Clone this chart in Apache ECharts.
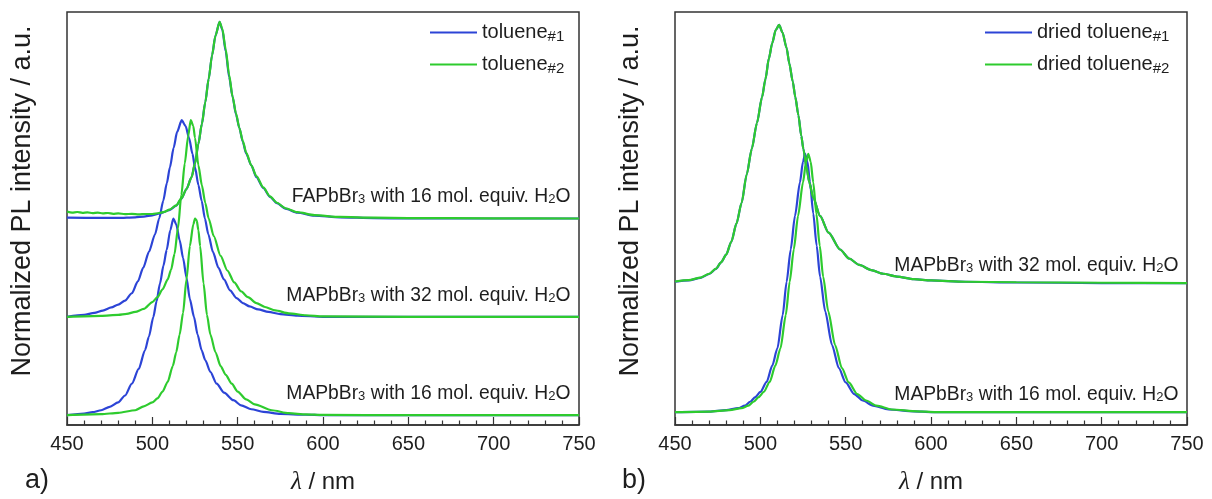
<!DOCTYPE html>
<html><head><meta charset="utf-8">
<script src="https://cdn.jsdelivr.net/npm/echarts@6/dist/echarts.min.js"></script>
<style>html,body{margin:0;padding:0;background:#fff}#c{width:1212px;height:499px}</style>
</head><body><div id="c"></div>
<script>
// ---------- DATA (normalized PL intensity vs wavelength / nm) ----------
const xTicks = [450, 500, 550, 600, 650, 700, 750];

// Panel a) toluene
const MAP16_tol1 = [[450,0],[460,0.008],[465,0.015],[470,0.025],[475,0.042],[480,0.065],[484,0.10],[488,0.16],[492,0.235],[495.7,0.33],[498,0.40],[500.6,0.50],[502.5,0.58],[504.5,0.67],[506.5,0.76],[508.4,0.84],[510.5,0.94],[512.3,1.0],[514,0.97],[516,0.89],[518,0.80],[520,0.70],[522,0.59],[524.4,0.50],[526.5,0.41],[528.9,0.33],[531,0.28],[534,0.22],[537.7,0.16],[542,0.115],[547.5,0.076],[552,0.05],[558,0.03],[565,0.017],[575,0.007],[590,0.002],[600,0],[650,0],[700,0],[750,0]];
const MAP16_tol2 = [[450,0],[470,0.005],[480,0.012],[490,0.025],[495,0.045],[500,0.065],[503,0.085],[506,0.12],[509,0.17],[512,0.25],[514,0.32],[516,0.41],[518,0.52],[520,0.69],[522,0.86],[524,0.97],[525,1.0],[526,0.99],[527,0.94],[528,0.86],[530,0.67],[532,0.51],[534,0.41],[537,0.32],[540,0.25],[543,0.205],[546.5,0.16],[550,0.12],[555,0.08],[560,0.055],[570,0.025],[580,0.01],[590,0.004],[600,0.001],[650,0],[700,0],[750,0]];
const MAP32_tol1 = [[450,0],[460,0.01],[466,0.02],[471,0.032],[476,0.048],[480,0.062],[484,0.082],[488,0.12],[491.5,0.18],[494.7,0.25],[498,0.33],[501.6,0.42],[504,0.50],[506.4,0.59],[508.5,0.68],[510.3,0.76],[512.5,0.86],[514.5,0.94],[517.2,1.0],[519.5,0.97],[521.5,0.91],[523.5,0.83],[525,0.76],[527,0.67],[528.9,0.59],[530.8,0.50],[532.8,0.42],[535.5,0.33],[538.7,0.25],[542,0.19],[545.5,0.135],[549.4,0.095],[553,0.07],[557,0.053],[562,0.038],[568,0.025],[575,0.014],[585,0.006],[600,0],[650,0],[700,0],[750,0]];
const MAP32_tol2 = [[450,0],[470,0.005],[480,0.01],[485,0.015],[490,0.025],[495,0.04],[500,0.075],[503,0.10],[506,0.14],[509,0.19],[511,0.24],[513,0.32],[515,0.45],[517,0.62],[519,0.78],[521,0.92],[522.5,1.0],[524,0.97],[525,0.91],[527,0.77],[529,0.67],[531,0.58],[533,0.50],[536,0.41],[540,0.31],[544,0.235],[548,0.175],[552,0.13],[556,0.10],[561,0.07],[566,0.05],[572,0.033],[580,0.018],[590,0.008],[600,0.002],[650,0],[700,0],[750,0]];
const FAP16_tol1 = [[450,0.004],[470,0.003],[480,0.003],[490,0.006],[495,0.01],[500,0.016],[505,0.027],[510,0.043],[514,0.065],[517,0.10],[520,0.15],[523,0.21],[525,0.28],[527,0.38],[529,0.48],[531,0.59],[533,0.71],[535,0.83],[537,0.93],[539.4,1.0],[541,0.96],[543,0.85],[545,0.72],[547,0.62],[549,0.53],[551,0.46],[553,0.39],[555,0.33],[558,0.27],[561,0.21],[565,0.155],[569,0.11],[573,0.078],[578,0.05],[585,0.03],[595,0.015],[610,0.006],[630,0.002],[650,0],[700,0],[750,0]];
const FAP16_tol2 = [[450,0.035],[453,0.03],[456,0.033],[459,0.029],[462,0.031],[465,0.027],[468,0.03],[471,0.026],[474,0.028],[477,0.024],[480,0.026],[484,0.022],[488,0.024],[492,0.021],[496,0.023],[500,0.023],[504,0.028],[507,0.034],[510,0.045],[514,0.067],[517,0.102],[520,0.15],[523,0.21],[525,0.28],[527,0.38],[529,0.48],[531,0.59],[533,0.71],[535,0.83],[537,0.93],[539.4,1.0],[541,0.965],[543,0.86],[545,0.73],[547,0.62],[549,0.535],[551,0.46],[553,0.395],[555,0.335],[558,0.27],[561,0.215],[565,0.158],[569,0.112],[573,0.08],[578,0.052],[585,0.032],[595,0.017],[610,0.008],[630,0.004],[650,0.002],[700,0.001],[750,0]];

// Panel b) dried toluene
const MAP16_dry1 = [[450,0],[470,0.002],[480,0.008],[487,0.015],[491,0.025],[494,0.04],[497,0.058],[500,0.078],[503.7,0.117],[507,0.18],[510,0.247],[513.1,0.376],[515.4,0.505],[517.8,0.63],[520.3,0.76],[523.2,0.89],[525,0.97],[526.2,1.0],[527.6,0.97],[529.1,0.89],[531,0.77],[533,0.645],[535,0.525],[538,0.39],[542,0.26],[546,0.17],[550,0.115],[555,0.07],[560,0.045],[566,0.025],[575,0.01],[590,0.003],[600,0],[650,0],[700,0],[750,0]];
const MAP16_dry2 = [[450,0],[470,0.002],[482,0.008],[489,0.015],[493,0.025],[496,0.04],[499,0.058],[502,0.078],[505.5,0.117],[508.8,0.18],[511.8,0.247],[514.9,0.376],[517.2,0.505],[519.6,0.63],[522.1,0.76],[525,0.89],[526.8,0.97],[528.1,1.0],[529.5,0.97],[531,0.89],[532.8,0.77],[534.8,0.645],[536.8,0.525],[539.8,0.39],[543.8,0.26],[547.8,0.17],[551.8,0.115],[556.8,0.07],[562,0.045],[568,0.025],[577,0.01],[592,0.003],[602,0],[650,0],[700,0],[750,0]];
const MAP32_dry1 = [[450,0.005],[458,0.01],[465,0.02],[470,0.035],[474,0.055],[477,0.08],[480,0.11],[483,0.16],[486,0.23],[489,0.31],[492,0.42],[495,0.52],[498,0.62],[501,0.72],[503,0.79],[505,0.87],[507,0.93],[509,0.98],[511,1.0],[513,0.97],[515.4,0.91],[517,0.85],[519,0.78],[520.5,0.72],[522.3,0.65],[524,0.57],[525.2,0.52],[527,0.45],[528.7,0.39],[531,0.33],[535,0.26],[540,0.195],[546.7,0.13],[552,0.095],[558,0.07],[565,0.05],[572,0.036],[580,0.025],[590,0.015],[600,0.01],[620,0.005],[650,0.002],[700,0],[750,0]];
const MAP32_dry2 = [[450,0.006],[458,0.011],[465,0.021],[470,0.036],[474,0.056],[477,0.08],[480,0.11],[483,0.16],[486,0.23],[489,0.31],[492,0.42],[495,0.52],[498,0.62],[501,0.72],[503,0.79],[505,0.87],[507,0.93],[509,0.98],[511,1.0],[513,0.97],[515.4,0.91],[517,0.85],[519,0.78],[520.5,0.72],[522.3,0.65],[524,0.57],[525.2,0.52],[527,0.45],[528.7,0.39],[531,0.33],[535,0.26],[540,0.195],[546.7,0.13],[552,0.095],[558,0.07],[565,0.05],[572,0.036],[580,0.025],[590,0.015],[600,0.01],[620,0.005],[650,0.003],[700,0.001],[750,0]];

// vertical offsets of the stacked spectra (a.u.)
const offsetsA = [0.05, 0.55, 1.05];   // MAP16, MAP32, FAP16
const offsetsB = [0.05, 0.55];         // MAP16, MAP32

const seriesNamesA = ['toluene#1', 'toluene#2'];
const seriesNamesB = ['dried toluene#1', 'dried toluene#2'];
const annotationsA = ['MAPbBr{s|3} with 16 mol. equiv. H{s|2}O', 'MAPbBr{s|3} with 32 mol. equiv. H{s|2}O', 'FAPbBr{s|3} with 16 mol. equiv. H{s|2}O'];
const annotationsB = ['MAPbBr{s|3} with 16 mol. equiv. H{s|2}O', 'MAPbBr{s|3} with 32 mol. equiv. H{s|2}O'];
const yTitle = 'Normalized PL intensity / a.u.';
const panelLabels = ['a)', 'b)'];

// ---------- STYLE ----------
const FONT = "'Liberation Sans', Arial, sans-serif";
const BLUE = '#2c44d6';
const GREEN = '#2ecb2e';
const TXT = '#1e1e1e';
const subRich = { s: { fontSize: 13, fontFamily: FONT, color: TXT, verticalAlign: 'bottom', lineHeight: 7 } };
const legendRich = { s: { fontSize: 15, fontFamily: FONT, color: TXT, verticalAlign: 'bottom', lineHeight: 8 } };

function line(name, data, off, color, idx) {
  return {
    type: 'line', name, xAxisIndex: idx, yAxisIndex: idx,
    data: data.map(p => [p[0], p[1] + off]),
    symbol: 'none', showSymbol: false, smooth: 0.25, smoothMonotone: 'x',
    lineStyle: { color, width: 2.2 }, itemStyle: { color }, silent: true
  };
}

const series = [
  line(seriesNamesA[0], MAP16_tol1, offsetsA[0], BLUE, 0),
  line(seriesNamesA[0], MAP32_tol1, offsetsA[1], BLUE, 0),
  line(seriesNamesA[0], FAP16_tol1, offsetsA[2], BLUE, 0),
  line(seriesNamesA[1], MAP16_tol2, offsetsA[0], GREEN, 0),
  line(seriesNamesA[1], MAP32_tol2, offsetsA[1], GREEN, 0),
  line(seriesNamesA[1], FAP16_tol2, offsetsA[2], GREEN, 0),
  line(seriesNamesB[0], MAP16_dry1, offsetsB[0], BLUE, 1),
  line(seriesNamesB[0], MAP32_dry1, offsetsB[1], BLUE, 1),
  line(seriesNamesB[1], MAP16_dry2, offsetsB[0], GREEN, 1),
  line(seriesNamesB[1], MAP32_dry2, offsetsB[1], GREEN, 1)
];

function xAxis(idx) {
  return {
    type: 'value', gridIndex: idx, min: xTicks[0], max: xTicks[xTicks.length - 1], interval: xTicks[1] - xTicks[0],
    axisLine: { show: true, onZero: false, lineStyle: { color: '#333', width: 1.5 } },
    axisTick: { show: true, inside: true, length: 8, lineStyle: { color: '#333', width: 1.2 } },
    minorTick: { show: true, splitNumber: 5, length: 4.5, lineStyle: { color: '#333', width: 1.2 } },
    splitLine: { show: false }, minorSplitLine: { show: false },
    axisLabel: { fontSize: 20, fontFamily: FONT, color: TXT, margin: 9 },
    name: '{i|λ} / nm', nameLocation: 'middle', nameGap: 45,
    nameTextStyle: { fontSize: 24, fontFamily: FONT, color: TXT,
      rich: { i: { fontSize: 25, fontFamily: "'Liberation Serif', 'DejaVu Serif', serif", fontStyle: 'italic', color: TXT } } }
  };
}
function yAxis(idx, max) {
  return { type: 'value', gridIndex: idx, min: 0, max, show: true,
    axisLine: { show: false }, axisTick: { show: false }, axisLabel: { show: false }, splitLine: { show: false } };
}
function legend(names, left) {
  return {
    data: names, orient: 'vertical', left, top: 21, padding: 0, itemWidth: 47, itemHeight: 2, itemGap: 9, icon: 'rect',
    selectedMode: false,
    formatter: n => n.replace(/#(\d)/, '{s|#$1}'),
    textStyle: { fontSize: 20, fontFamily: FONT, color: TXT, lineHeight: 23, rich: legendRich }
  };
}

const chart = echarts.init(document.getElementById('c'), null, { renderer: 'canvas' });
chart.setOption({
  animation: false,
  backgroundColor: '#fff',
  grid: [
    { left: 67, top: 12, width: 512, height: 413, show: true, borderColor: '#333', borderWidth: 1.5, containLabel: false, outerBoundsMode: 'none' },
    { left: 675, top: 12, width: 512, height: 413, show: true, borderColor: '#333', borderWidth: 1.5, containLabel: false, outerBoundsMode: 'none' }
  ],
  xAxis: [xAxis(0), xAxis(1)],
  yAxis: [yAxis(0, 2.1), yAxis(1, 1.6)],
  legend: [legend(seriesNamesA, 430), legend(seriesNamesB, 985)],
  series
});

// annotations and titles positioned via the chart's own scales
const g = [];
const textStyle = (text, align) => ({ text, fill: TXT, fontSize: 19.3, fontFamily: FONT, align, verticalAlign: 'middle', rich: subRich });
annotationsA.forEach((t, i) => {
  const p = chart.convertToPixel({ xAxisIndex: 0, yAxisIndex: 0 }, [745, offsetsA[i] + 0.11]);
  g.push({ type: 'text', x: p[0], y: p[1], style: textStyle(t, 'right'), silent: true });
});
annotationsB.forEach((t, i) => {
  const p = chart.convertToPixel({ xAxisIndex: 1, yAxisIndex: 1 }, [745, offsetsB[i] + 0.068]);
  g.push({ type: 'text', x: p[0], y: p[1], style: textStyle(t, 'right'), silent: true });
});
[[23, 0], [631, 1]].forEach(([x, i]) => {
  g.push({ type: 'text', x, y: 201, rotation: Math.PI / 2,
    style: { text: yTitle, fill: TXT, fontSize: 27, fontFamily: FONT, align: 'center', verticalAlign: 'middle' }, silent: true });
});
[[25, 0], [622, 1]].forEach(([x, i]) => {
  g.push({ type: 'text', x, y: 481,
    style: { text: panelLabels[i], fill: TXT, fontSize: 27, fontFamily: FONT, align: 'left', verticalAlign: 'middle' }, silent: true });
});
chart.setOption({ graphic: g });
</script>
</body></html>
